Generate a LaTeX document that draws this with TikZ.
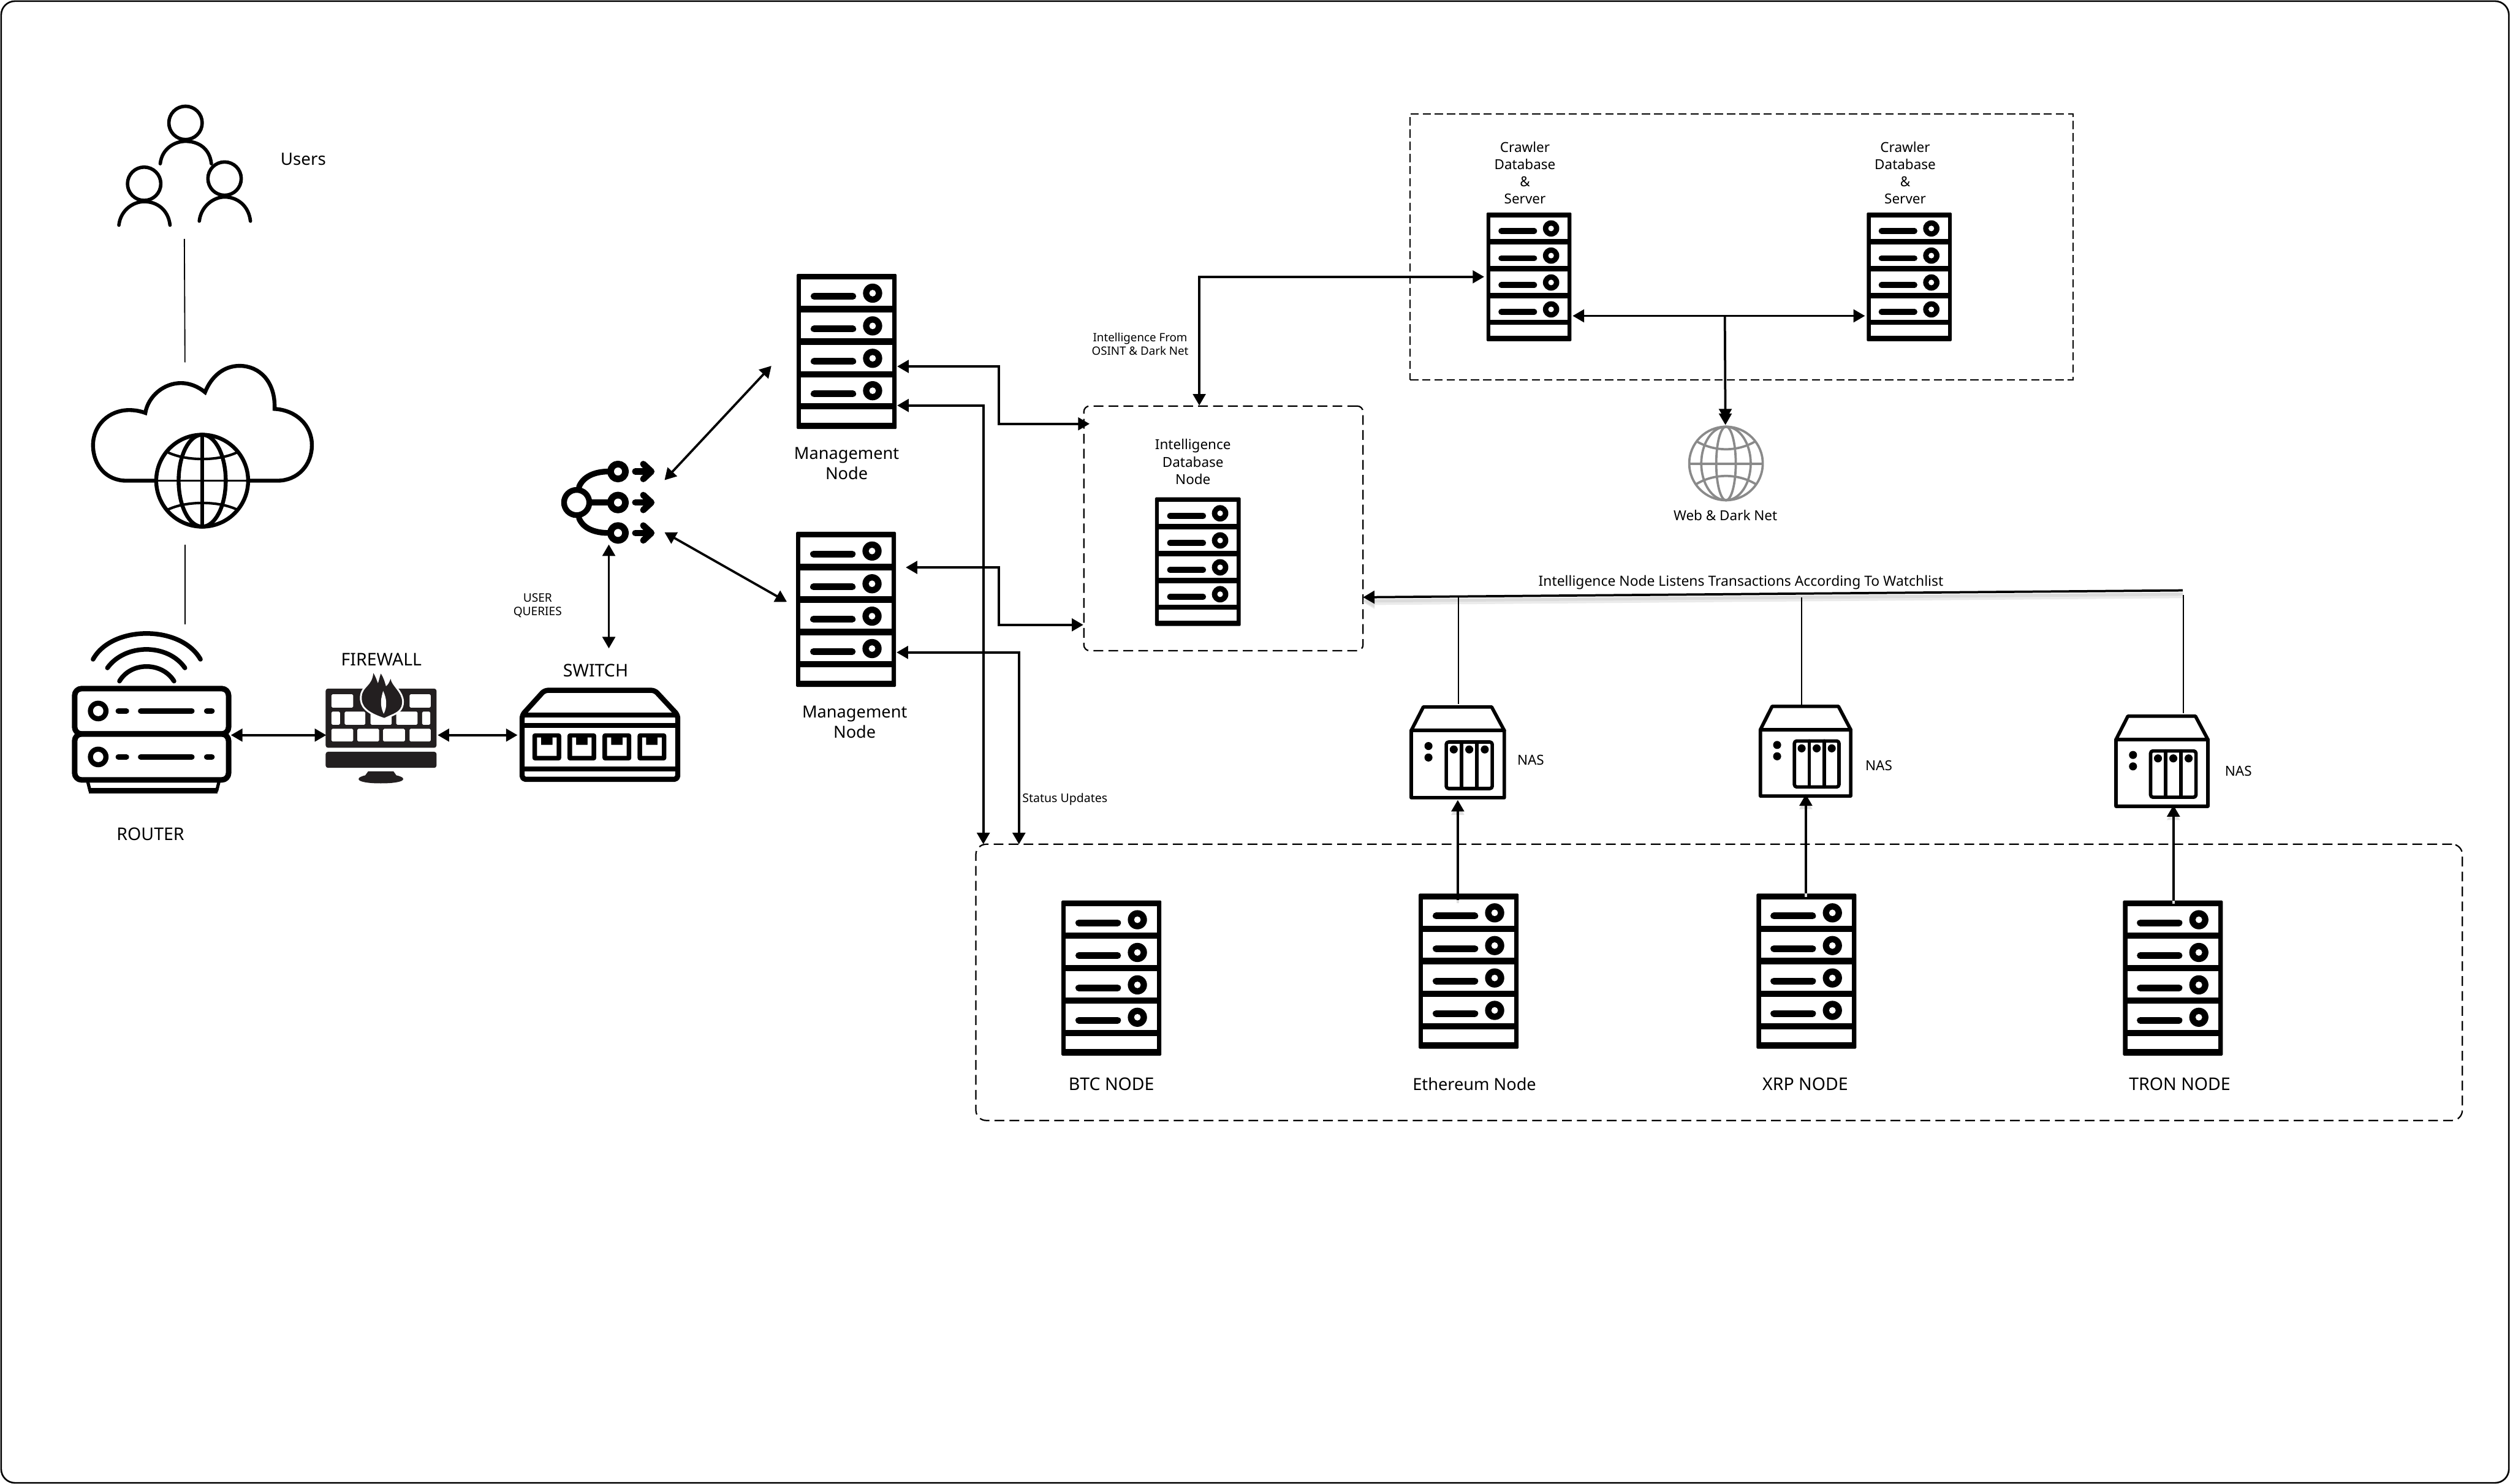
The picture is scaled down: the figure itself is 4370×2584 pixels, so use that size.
\documentclass[tikz,border=0pt]{standalone}
\usepackage{fontspec}
\setmainfont{Noto Sans}
\usetikzlibrary{arrows.meta,calc}
\definecolor{fwdark}{HTML}{231F20}
\definecolor{globegray}{HTML}{8A8A8A}
\tikzset{
  iconbox/.style={inner sep=0pt,outer sep=0pt,draw=none,rectangle},
  headtip/.tip={Triangle[length=5pt,width=5.5pt]},
  conn/.style={line width=1pt,-{headtip}},
  both/.style={line width=1pt,{headtip}-{headtip}},
  thinline/.style={line width=0.5pt,black},
  softshadow/.style={preaction={draw=black!8,line width=2.4pt,transform canvas={yshift=-2.2pt}},preaction={draw=black!14,line width=1.4pt,transform canvas={yshift=-1.6pt}}},
  vshadow/.style={preaction={draw=black!12,line width=1pt,transform canvas={yshift=-1.5pt}}},
  framebox/.style={iconbox,draw=black,line width=0.6pt,dash pattern=on 4.25pt off 2.25pt},
  crawlframe/.style={iconbox,draw=black,line width=0.5pt,dash pattern=on 3.6pt off 1.7pt},
  icon/.style={line width=1.5pt,black,line cap=round,line join=round},
  lab/.style={inner sep=0pt,outer sep=0pt,align=center,text=black},
  labA/.style={lab,font=\fontsize{7.25}{8.75}\selectfont},
  labCaps/.style={lab,font=\fontsize{7.6}{8.75}\selectfont},
  labB/.style={lab,font=\fontsize{6}{7.5}\selectfont},
  labC/.style={lab,font=\fontsize{5.3}{5.75}\selectfont},
}
\newcommand\servericon[5]{%
  \node[iconbox,minimum width={#4*0.25pt},minimum height={#5*0.25pt}] (#1) at ({#2+#4/2},{#3+#5/2}) {};
  \pgfmathsetmacro\sw{#4*0.25}\pgfmathsetmacro\sh{#5*0.25}
  \pgfmathsetmacro\barw{\sw*0.0675}\pgfmathsetmacro\ringo{\sw*0.096}\pgfmathsetmacro\ringi{\sw*0.033}
  \begin{scope}[shift={(#2,#3)},x=\sw pt,y=-\sh pt]
    \fill[black,rounded corners=0.4pt] (0,0) rectangle (1,1);
    \foreach \ya/\yb in {.037/.207,.248/.415,.457/.626,.666/.834}{
      \fill[white] (.045,\ya) rectangle (.955,\yb);
      \draw[black,line cap=round,line width=\barw pt] (.174,{\ya+.1067}) -- (.562,{\ya+.1067});
      \fill[black] (.76,{\ya+.087}) circle[radius=\ringo pt];
      \fill[white] (.76,{\ya+.087}) circle[radius=\ringi pt];
    }
    \fill[white] (.045,.874) rectangle (.955,.959);
  \end{scope}
}
\newcommand\nasicon[5]{%
  \node[iconbox,minimum width={#4*0.25pt},minimum height={#5*0.25pt}] (#1) at ({#2+#4/2},{#3+#5/2}) {};
  \pgfmathsetmacro\sw{#4*0.25/168}\pgfmathsetmacro\sh{#5*0.25/164}
  \begin{scope}[shift={(#2,#3)},x=\sw pt,y=-\sh pt]
    \draw[icon] (3,44) -- (24,3) -- (143,3) -- (165,44) -- (165,161) -- (3,161) -- cycle;
    \draw[icon] (3,44) -- (165,44);
    \draw[icon,rounded corners=1pt] (64,64) rectangle (144,145);
    \draw[icon] (90.5,64) -- (90.5,145) (117.5,64) -- (117.5,145);
    \foreach \dx in {77,104,131}{\fill[black] (\dx,77) circle[radius=1.75pt];}
    \fill[black] (33,71) circle[radius=1.75pt] (33,91) circle[radius=1.75pt];
  \end{scope}
}
\begin{document}
\begin{tikzpicture}[x=0.25pt,y=-0.25pt]
\useasboundingbox (0,0) rectangle (4370,2584);
\draw[black,line width=0.7pt,rounded corners=6pt] (2,2) rectangle (4368,2582);

% frames
\node[crawlframe,minimum width={1154*0.25pt},minimum height={463*0.25pt}] (crawlbox) at (3032,429.5) {};
\node[framebox,rounded corners=2.5pt,minimum width={486*0.25pt},minimum height={426*0.25pt}] (intelbox) at (2130,920) {};
\node[framebox,rounded corners=4.5pt,minimum width={2588*0.25pt},minimum height={481*0.25pt}] (blockbox) at (2993,1710.5) {};

% users
\node[iconbox,minimum width={229*0.25pt},minimum height={211*0.25pt}] (users) at (321.5,286.5) {};
\begin{scope}[icon,line width=1.5pt]
  \draw (323,214) circle[radius=29];
  \draw (279,285) .. controls (282,258) and (305,246) .. (323,246) .. controls (345,246) and (365,258) .. (368,285);
  \draw (251,320) circle[radius=29];
  \draw (207,392) .. controls (210,365) and (233,351) .. (251,351) .. controls (273,351) and (293,365) .. (296,392);
  \draw (391,311) circle[radius=29];
  \draw (347,385) .. controls (350,358) and (373,343) .. (391,343) .. controls (413,343) and (433,358) .. (436,385);
\end{scope}
\node[lab,font=\fontsize{7.4}{8.5}\selectfont] (userslabel) at (528,277) {Users};

% cloud
\node[iconbox,minimum width={381*0.25pt},minimum height={283*0.25pt}] (cloud) at (352.5,778.5) {};
\begin{scope}[icon,line width=1.7pt,line cap=butt,line join=miter]
  \draw (220,837) .. controls (185,837) and (162,810) .. (162,775) .. controls (162,740) and (190,714) .. (225,714) .. controls (235,714) and (245,716) .. (253,719) .. controls (258,690) and (285,667) .. (315,667) .. controls (330,667) and (345,673) .. (357,683) .. controls (368,655) and (390,637) .. (417,637) .. controls (452,637) and (480,665) .. (478,712) .. controls (515,714) and (543,740) .. (543,775) .. controls (543,810) and (518,837) .. (483,837) -- cycle;
  \draw[fill=white] (352,837) circle[radius=80];
  \draw (352,837) ellipse[x radius=41,y radius=80];
  \draw[line width=1.75pt] (352,757) -- (352,917);
  \draw[line width=1pt] (272,837) -- (432,837);
  \draw[line width=1.1pt] (293,788) .. controls (325,803) and (380,803) .. (412,788);
  \draw[line width=1.1pt] (293,887) .. controls (325,872) and (380,872) .. (412,887);
\end{scope}

% router
\node[iconbox,minimum width={276*0.25pt},minimum height={168*0.25pt}] (router) at (264,1278) {};
\begin{scope}[icon,line width=2.4pt]
  \draw[line width=2pt] (162,1148) .. controls (195,1088) and (315,1088) .. (349,1148);
  \draw[line width=2pt] (187,1163) .. controls (218,1120) and (292,1120) .. (322,1163);
  \draw[line width=2pt] (208,1186) .. controls (228,1152) and (282,1152) .. (303,1186);
  \draw[rounded corners=3pt] (130,1199) rectangle (398,1278);
  \draw[rounded corners=3pt] (130,1278) rectangle (398,1358);
  \draw[line width=1.4pt,line cap=butt] (153,1362) -- (157,1378);
  \draw[line width=1.4pt,line cap=butt] (381,1362) -- (377,1378);
  \draw[line width=2.5pt,line cap=butt] (155,1377) -- (379,1377);
  \foreach \ry in {1238,1318}{
    \fill[black] (171,\ry) circle[radius=18];
    \fill[white] (171,\ry) circle[radius=9];
    \draw (206,\ry) -- (220,\ry);
    \draw (245,\ry) -- (334,\ry);
    \draw (360,\ry) -- (369,\ry);
  }
\end{scope}
\node[labCaps] (routerlabel) at (262,1452) {ROUTER};

% firewall
\node[iconbox,minimum width={193*0.25pt},minimum height={192*0.25pt}] (firewall) at (663.5,1268) {};
\fill[fwdark,rounded corners=1pt] (567,1199) -- (760,1199) -- (760,1302) -- (567,1302) -- cycle;
\fill[fwdark,rounded corners=1pt] (567,1309) -- (760,1309) -- (760,1337) -- (567,1337) -- cycle;
\fill[fwdark] (641,1343) -- (685,1343) -- (690,1350) .. controls (712,1355) and (705,1364) .. (663,1364) .. controls (621,1364) and (615,1355) .. (636,1350) -- cycle;
\begin{scope}[white,rounded corners=0.5pt]
  \foreach \xa/\xb in {577/615,713/750}{\fill (\xa,1209) rectangle (\xb,1232);}
  \foreach \xa/\xb in {577/592,600/636,645/682,690/727,735/749}{\fill (\xa,1239) rectangle (\xb,1262);}
  \foreach \xa/\xb in {577/615,622/660,667/705,713/750}{\fill (\xa,1269) rectangle (\xb,1291);}
\end{scope}
\path[fill=fwdark,draw=white,line width=1.6pt,line join=round] (669,1250) .. controls (640,1240) and (628,1230) .. (630,1212) .. controls (632,1195) and (648,1195) .. (650,1172) .. controls (655,1180) and (656,1185) .. (658,1190) .. controls (660,1185) and (661,1178) .. (663,1173) .. controls (668,1180) and (670,1188) .. (672,1195) .. controls (676,1192) and (678,1188) .. (680,1182) .. controls (682,1195) and (700,1205) .. (700,1222) .. controls (700,1235) and (692,1240) .. (680,1245) -- cycle;
\fill[fwdark] (669,1250) .. controls (640,1240) and (628,1230) .. (630,1212) .. controls (632,1195) and (648,1195) .. (650,1172) .. controls (655,1180) and (656,1185) .. (658,1190) .. controls (660,1185) and (661,1178) .. (663,1173) .. controls (668,1180) and (670,1188) .. (672,1195) .. controls (676,1192) and (678,1188) .. (680,1182) .. controls (682,1195) and (700,1205) .. (700,1222) .. controls (700,1235) and (692,1240) .. (680,1245) -- cycle;
\fill[white] (667,1203) .. controls (664,1215) and (660,1225) .. (668,1243) .. controls (675,1230) and (673,1215) .. (667,1203) -- cycle;
\node[labCaps] (firewalllabel) at (664,1148) {FIREWALL};

% switch
\node[iconbox,minimum width={279*0.25pt},minimum height={165*0.25pt}] (switch) at (1044.5,1279.5) {};
\begin{scope}[icon,line width=2.25pt]
  \draw[rounded corners=1.5pt] (909,1245) -- (948,1202) -- (1140,1202) -- (1180,1245) -- (1180,1357) -- (909,1357) -- cycle;
  \draw[line cap=butt] (909,1245) -- (1180,1245) (909,1263) -- (1180,1263) (909,1339) -- (1180,1339);
\end{scope}
\foreach \px in {927,988,1049,1110}{
  \fill[black,rounded corners=1pt] (\px,1277) rectangle ({\px+50},1324);
  \fill[white] ({\px+8},1284) -- ({\px+15},1284) -- ({\px+15},1297) -- ({\px+35},1297) -- ({\px+35},1284) -- ({\px+42},1284) -- ({\px+42},1316) -- ({\px+8},1316) -- cycle;
}
\node[labCaps] (switchlabel) at (1037,1167) {SWITCH};

% load balancer
\node[iconbox,minimum width={163*0.25pt},minimum height={146*0.25pt}] (lb) at (1058.5,875) {};
\begin{scope}[icon,line width=2.5pt]
  \draw (1008,848) .. controls (1015,830) and (1035,821) .. (1060,821);
  \draw (1008,902) .. controls (1015,920) and (1035,928) .. (1060,928);
  \draw (1026,875) -- (1060,875);
  \draw[fill=white] (1004,875) circle[radius=22];
  \foreach \ly in {821,875,928}{
    \draw[line width=2.9pt,fill=white] (1076,\ly) circle[radius=13];
    \draw[line width=2.8pt] (1106,\ly) -- (1130,\ly);
    \draw[line width=2.8pt] (1120,{\ly-13}) -- (1134,\ly) -- (1120,{\ly+13});
  }
\end{scope}
\node[labC,font=\fontsize{5.1}{5.75}\selectfont] (querieslabel) at (936,1054) {USER\\QUERIES};

% management nodes
\servericon{mgA}{1387}{477}{174}{270}
\servericon{mgB}{1386}{926}{174}{270}
\node[labA] (mgAlabel) at (1474,807) {Management\\Node};
\node[labA] (mgBlabel) at (1488,1257) {Management\\Node};

% intelligence node
\servericon{intel}{2011}{866}{149}{224}
\node[labB] (intellabel) at (2077,804) {Intelligence\\Database\\Node};
\node[labC,font=\fontsize{5}{5.75}\selectfont] (osintlabel) at (1985,599) {Intelligence From\\OSINT \& Dark Net};

% crawlers
\servericon{crawlA}{2588}{370}{148}{224}
\servericon{crawlB}{3250}{370}{148}{224}
\node[labB] (crawlAlabel) at (2655,301) {Crawler\\Database\\\&\hspace{2pt}\\Server};
\node[labB] (crawlBlabel) at (3317,301) {Crawler\\Database\\\&\hspace{2pt}\\Server};

% web globe
\node[iconbox,minimum width={134*0.25pt},minimum height={134*0.25pt}] (webglobe) at (3005,807) {};
\begin{scope}[globegray,line width=1pt]
  \draw (3005,807) circle[radius=64];
  \draw (3005,807) ellipse[x radius=17,y radius=64];
  \draw (3005,807) ellipse[x radius=43,y radius=64];
  \draw (2941,808) -- (3069,808);
  \draw (2953,768) .. controls (2985,787) and (3025,787) .. (3057,768);
  \draw (2953,843) .. controls (2985,824) and (3025,824) .. (3057,843);
\end{scope}
\node[labB] (weblabel) at (3004,897) {Web \& Dark Net};

% NAS
\nasicon{nasA}{2454}{1228}{168}{164}
\nasicon{nasB}{3062}{1227}{163}{162}
\nasicon{nasC}{3681}{1244}{166}{163}
\node[labB] (nasAlabel) at (2665,1323) {NAS};
\node[labB] (nasBlabel) at (3271,1333) {NAS};
\node[labB] (nasClabel) at (3897,1343) {NAS};

% chain nodes
\servericon{nodeBtc}{1848}{1568}{174}{270}
\servericon{nodeEth}{2470}{1556}{174}{270}
\servericon{nodeXrp}{3058}{1556}{174}{270}
\servericon{nodeTron}{3696}{1568}{174}{270}
\node[labCaps] (btclabel) at (1935,1888) {BTC NODE};
\node[labA] (ethlabel) at (2567,1888) {Ethereum Node};
\node[labCaps] (xrplabel) at (3143,1888) {XRP NODE};
\node[labCaps] (tronlabel) at (3795,1888) {TRON NODE};

\node[labC,font=\fontsize{5.2}{6}\selectfont] (statuslabel) at (1854,1392) {Status Updates};
\node[lab,font=\fontsize{6.1}{7.5}\selectfont] (listenlabel) at (3031,1014) {Intelligence Node Listens Transactions According To Watchlist};

% connector ends
\coordinate (listenstart) at (3800,1028);
\coordinate (listenA) at (2539,1040);
\coordinate (listenB) at (3137,1040);
\coordinate (listenC) at (3801,1036);
\coordinate (crawljoin) at (3003,550);

% connectors
\draw[thinline] ($(users.south)+(-0.5,24)$) -- ($(cloud.north)+(-30.5,-6)$);
\draw[thinline] ($(cloud.south)+(-30.5,28)$) -- ($(router.north)+(58,-107)$);
\draw[both] ($(router.east)+(0,2)$) -- ($(firewall.west)+(1,12)$);
\draw[both] ($(firewall.east)+(2,12)$) -- ($(switch.west)+(-4,0.5)$);
\draw[both] ($(switch.north)+(15.5,-68)$) -- ($(lb.south)+(1.5,0)$);
\draw[both] ($(lb.east)+(17,-39)$) -- ($(mgA.west)+(-44,25)$);
\draw[both] ($(lb.east)+(17,52)$) -- ($(mgB.west)+(-16,-13)$);
\draw[both] ($(mgA.east)+(1,26)$) -- ++(177,0) |- ($(intelbox.west)+(10,-182)$);
\draw[both] ($(mgA.east)+(1,94)$) -| ($(blockbox.north west)+(13,0)$);
\draw[both] ($(mgB.east)+(17,-73)$) -- ++(162,0) |- ($(intelbox.west)+(-1,168)$);
\draw[both] ($(mgB.east)+(1,75)$) -| ($(blockbox.north west)+(75,0)$);
\draw[both] ($(crawlA.west)+(-4,0)$) -| ($(intelbox.north)+(-42,-1)$);
\draw[both] ($(crawlA.east)+(2,68)$) -- ($(crawlB.west)+(-3,68)$);
\draw[line width=1pt,-{headtip[sep=-3pt]headtip}] (crawljoin) -- ($(webglobe.north)+(-1,0)$);
\draw[conn,softshadow] (listenstart) -- ($(intelbox.east)+(0,120)$);
\draw[thinline] ($(nasA.north)+(1,-2)$) -- (listenA);
\draw[thinline] ($(nasB.north)+(-6.5,0)$) -- (listenB);
\draw[thinline] ($(nasC.north)+(37,-2)$) -- (listenC);
\draw[conn,vshadow] ($(nodeEth.north)+(-19,11)$) -- ($(nasA.south)+(0,1)$);
\draw[conn,vshadow] ($(nodeXrp.north)+(-1,0)$) -- ($(nasB.south)+(0.5,-6)$);
\draw[conn,vshadow] ($(nodeTron.north)+(1,0)$) -- ($(nasC.south)+(20,-5)$);
\end{tikzpicture}
\end{document}
